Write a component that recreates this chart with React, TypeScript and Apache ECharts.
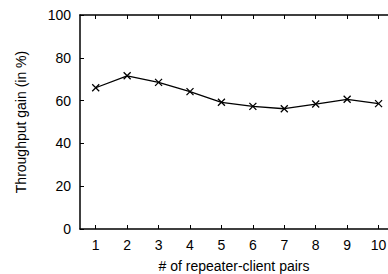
import React, { useEffect, useRef } from "react";
import * as echarts from "echarts";

const pairs = [1, 2, 3, 4, 5, 6, 7, 8, 9, 10];
const gain = [66.0, 71.6, 68.5, 64.2, 59.2, 57.3, 56.2, 58.4, 60.6, 58.6];
const yTicks = [0, 20, 40, 60, 80, 100];

const FONT = "Liberation Sans, Arial, Helvetica, sans-serif";

export default function App() {
  const ref = useRef<HTMLDivElement>(null);
  useEffect(() => {
    if (!ref.current) return;
    const chart = echarts.init(ref.current, undefined, { renderer: "svg" });
    const axisLine = { show: true, lineStyle: { color: "#000", width: 1.5 } };
    chart.setOption({
      animation: false,
      backgroundColor: "#fff",
      grid: { left: 80, top: 15, bottom: 45, right: 0, containLabel: false, outerBoundsMode: "none" },
      xAxis: [
        {
          type: "value",
          position: "bottom",
          min: 0.5,
          max: 10.3,
          name: "# of repeater-client pairs",
          nameLocation: "middle",
          nameGap: 30,
          nameMoveOverlap: false,
          nameTextStyle: { fontFamily: FONT, fontSize: 14, lineHeight: 14, color: "#000" },
          axisLine,
          axisTick: { show: true, inside: true, length: 4, customValues: pairs, lineStyle: { color: "#000", width: 1 } },
          axisLabel: { show: true, customValues: pairs, margin: 9, fontFamily: FONT, fontSize: 14, color: "#000" },
          splitLine: { show: false },
        },
        {
          type: "value",
          position: "top",
          min: 0.5,
          max: 10.3,
          axisLine,
          axisTick: { show: true, inside: true, length: 4, customValues: pairs, lineStyle: { color: "#000", width: 1 } },
          axisLabel: { show: false },
          splitLine: { show: false },
        },
      ],
      yAxis: {
        type: "value",
        min: 0,
        max: 100,
        interval: 20,
        name: "Throughput gain (in %)",
        nameLocation: "middle",
        nameGap: 52,
        nameMoveOverlap: false,
        nameTextStyle: { fontFamily: FONT, fontSize: 14, color: "#000" },
        axisLine,
        axisTick: { show: true, inside: true, length: 4, customValues: yTicks, lineStyle: { color: "#000", width: 1 } },
        axisLabel: { show: true, margin: 9, fontFamily: FONT, fontSize: 14, color: "#000" },
        splitLine: { show: false },
      },
      series: [
        {
          type: "line",
          data: pairs.map((p, i) => [p, gain[i]]),
          symbol: "path://M0,0L10,10M10,0L0,10",
          symbolSize: 7,
          showAllSymbol: true,
          lineStyle: { color: "#000", width: 1.3 },
          itemStyle: { color: "none", borderColor: "#000", borderWidth: 1.3 },
        },
      ],
    });
    return () => chart.dispose();
  }, []);
  return <div ref={ref} style={{ position: "fixed", left: 0, top: 0, width: 388, height: 274, background: "#fff" }} />;
}
